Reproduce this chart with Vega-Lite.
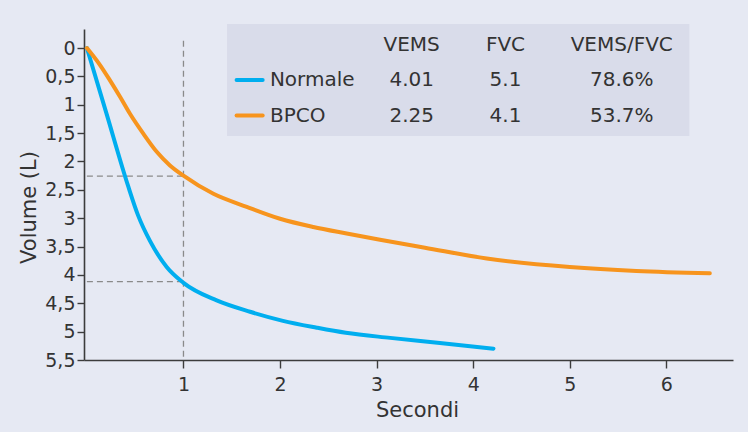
{
  "$schema": "https://vega.github.io/schema/vega-lite/v6.json",
  "width": 649,
  "height": 331,
  "autosize": {"type": "none"},
  "padding": {"left": 84, "top": 29, "right": 15, "bottom": 72},
  "background": "#e6e9f3",
  "config": {
    "view": {"stroke": null},
    "font": "DejaVu Sans"
  },
  "datasets": {
    "curves": [
      {"series": "Normale", "t": 0, "v": 0},
      {"series": "Normale", "t": 0.2, "v": 1.14},
      {"series": "Normale", "t": 0.43, "v": 2.45},
      {"series": "Normale", "t": 0.53, "v": 2.95},
      {"series": "Normale", "t": 0.653, "v": 3.4},
      {"series": "Normale", "t": 0.826, "v": 3.86},
      {"series": "Normale", "t": 1.0, "v": 4.14},
      {"series": "Normale", "t": 1.344, "v": 4.45},
      {"series": "Normale", "t": 1.689, "v": 4.65},
      {"series": "Normale", "t": 2.03, "v": 4.81},
      {"series": "Normale", "t": 2.38, "v": 4.93},
      {"series": "Normale", "t": 2.68, "v": 5.02},
      {"series": "Normale", "t": 3.14, "v": 5.11},
      {"series": "Normale", "t": 3.655, "v": 5.2},
      {"series": "Normale", "t": 4.21, "v": 5.3},
      {"series": "BPCO", "t": 0, "v": 0},
      {"series": "BPCO", "t": 0.136, "v": 0.3},
      {"series": "BPCO", "t": 0.239, "v": 0.57},
      {"series": "BPCO", "t": 0.343, "v": 0.86},
      {"series": "BPCO", "t": 0.446, "v": 1.16},
      {"series": "BPCO", "t": 0.584, "v": 1.51},
      {"series": "BPCO", "t": 0.723, "v": 1.83},
      {"series": "BPCO", "t": 0.86, "v": 2.07},
      {"series": "BPCO", "t": 1.0, "v": 2.25},
      {"series": "BPCO", "t": 1.31, "v": 2.57},
      {"series": "BPCO", "t": 1.655, "v": 2.8},
      {"series": "BPCO", "t": 2.0, "v": 3.01},
      {"series": "BPCO", "t": 2.344, "v": 3.155},
      {"series": "BPCO", "t": 2.69, "v": 3.27},
      {"series": "BPCO", "t": 3.035, "v": 3.38},
      {"series": "BPCO", "t": 3.5, "v": 3.52},
      {"series": "BPCO", "t": 4.14, "v": 3.71},
      {"series": "BPCO", "t": 5.0, "v": 3.86},
      {"series": "BPCO", "t": 5.69, "v": 3.93},
      {"series": "BPCO", "t": 6.45, "v": 3.97}
    ],
    "guides": [
      {"t": 1, "t2": 1, "v": -0.13, "v2": 5.5},
      {"t": 0, "t2": 1, "v": 2.26, "v2": 2.26},
      {"t": 0, "t2": 1, "v": 4.12, "v2": 4.12}
    ],
    "table": [
      {"row": "header", "name": "", "VEMS": "VEMS", "FVC": "FVC", "ratio": "VEMS/FVC"},
      {"row": "Normale", "name": "Normale", "VEMS": "4.01", "FVC": "5.1", "ratio": "78.6%"},
      {"row": "BPCO", "name": "BPCO", "VEMS": "2.25", "FVC": "4.1", "ratio": "53.7%"}
    ]
  },
  "resolve": {
    "scale": {"x": "independent", "y": "independent", "color": "independent"},
    "axis": {"x": "independent", "y": "independent"}
  },
  "layer": [
    {
      "data": {"values": [{}]},
      "mark": {"type": "rect", "color": "#d9dcea"},
      "encoding": {
        "x": {"datum": 1.451, "type": "quantitative", "scale": {"domain": [-0.03, 6.69], "nice": false, "zero": false}, "axis": null},
        "x2": {"datum": 6.238},
        "y": {"datum": -0.423, "type": "quantitative", "scale": {"domain": [-0.335, 5.5], "nice": false, "zero": false, "reverse": true}, "axis": null},
        "y2": {"datum": 1.552}
      }
    },
    {
      "data": {"name": "guides"},
      "mark": {"type": "rule", "color": "#8a8a8a", "strokeWidth": 1.3, "strokeDash": [6, 4]},
      "encoding": {
        "x": {"field": "t", "type": "quantitative", "scale": {"domain": [-0.03, 6.69], "nice": false, "zero": false}, "axis": null},
        "x2": {"field": "t2"},
        "y": {"field": "v", "type": "quantitative", "scale": {"domain": [-0.335, 5.5], "nice": false, "zero": false, "reverse": true}, "axis": null},
        "y2": {"field": "v2"}
      }
    },
    {
      "data": {"name": "curves"},
      "mark": {"type": "line", "interpolate": "monotone", "strokeWidth": 4, "strokeCap": "round", "strokeJoin": "round"},
      "encoding": {
        "x": {
          "field": "t", "type": "quantitative",
          "scale": {"domain": [-0.03, 6.69], "nice": false, "zero": false},
          "axis": {
            "title": "Secondi", "values": [1, 2, 3, 4, 5, 6], "format": "d",
            "grid": false, "domainColor": "#3c3c3c", "domainWidth": 1.6, "tickColor": "#3c3c3c", "tickWidth": 1.4,
            "tickSize": 8, "labelPadding": 7, "labelFont": "DejaVu Sans", "labelFontSize": 19, "labelColor": "#333333",
            "titleFont": "DejaVu Sans", "titleFontSize": 21, "titleFontWeight": "normal", "titleColor": "#333333",
            "titlePadding": 5, "titleX": 333
          }
        },
        "y": {
          "field": "v", "type": "quantitative",
          "scale": {"domain": [-0.335, 5.5], "nice": false, "zero": false, "reverse": true},
          "axis": {
            "title": "Volume (L)",
            "values": [0, 0.5, 1, 1.5, 2, 2.5, 3, 3.5, 4, 4.5, 5, 5.5],
            "labelExpr": "replace(format(datum.value, '~g'), '.', ',')",
            "labelOverlap": false,
            "grid": false, "domainColor": "#3c3c3c", "domainWidth": 1.6, "tickColor": "#3c3c3c", "tickWidth": 1.4,
            "tickSize": 7, "labelPadding": 2, "labelFont": "DejaVu Sans", "labelFontSize": 19, "labelColor": "#333333",
            "titleFont": "DejaVu Sans", "titleFontSize": 21, "titleFontWeight": "normal", "titleColor": "#333333",
            "titlePadding": 5, "titleY": 178
          }
        },
        "color": {"field": "series", "type": "nominal", "scale": {"domain": ["Normale", "BPCO"], "range": ["#00aeef", "#f7941d"]}, "legend": null},
        "order": {"field": "t", "type": "quantitative"}
      }
    },
    {
      "data": {"name": "table"},
      "encoding": {
        "y": {"field": "row", "type": "nominal", "scale": {"type": "point", "domain": ["header", "Normale", "BPCO"], "range": [15.5, 86.5], "padding": 0}, "axis": null}
      },
      "layer": [
        {
          "transform": [{"filter": "datum.row !== 'header'"}],
          "mark": {"type": "rule", "strokeWidth": 4, "strokeCap": "round"},
          "encoding": {
            "x": {"datum": 1.55, "type": "quantitative", "scale": {"domain": [-0.03, 6.69], "nice": false, "zero": false}, "axis": null},
            "x2": {"datum": 1.82},
            "color": {"field": "row", "type": "nominal", "scale": {"domain": ["Normale", "BPCO"], "range": ["#00aeef", "#f7941d"]}, "legend": null}
          }
        },
        {
          "mark": {"type": "text", "align": "left", "baseline": "middle", "font": "DejaVu Sans", "fontSize": 20, "color": "#333333"},
          "encoding": {"x": {"datum": 1.895, "type": "quantitative", "scale": {"domain": [-0.03, 6.69], "nice": false, "zero": false}, "axis": null}, "text": {"field": "name"}}
        },
        {
          "mark": {"type": "text", "align": "center", "baseline": "middle", "font": "DejaVu Sans", "fontSize": 20, "color": "#333333"},
          "encoding": {"x": {"datum": 3.363, "type": "quantitative", "scale": {"domain": [-0.03, 6.69], "nice": false, "zero": false}, "axis": null}, "text": {"field": "VEMS"}}
        },
        {
          "mark": {"type": "text", "align": "center", "baseline": "middle", "font": "DejaVu Sans", "fontSize": 20, "color": "#333333"},
          "encoding": {"x": {"datum": 4.334, "type": "quantitative", "scale": {"domain": [-0.03, 6.69], "nice": false, "zero": false}, "axis": null}, "text": {"field": "FVC"}}
        },
        {
          "mark": {"type": "text", "align": "center", "baseline": "middle", "font": "DejaVu Sans", "fontSize": 20, "color": "#333333"},
          "encoding": {"x": {"datum": 5.538, "type": "quantitative", "scale": {"domain": [-0.03, 6.69], "nice": false, "zero": false}, "axis": null}, "text": {"field": "ratio"}}
        }
      ]
    }
  ]
}
